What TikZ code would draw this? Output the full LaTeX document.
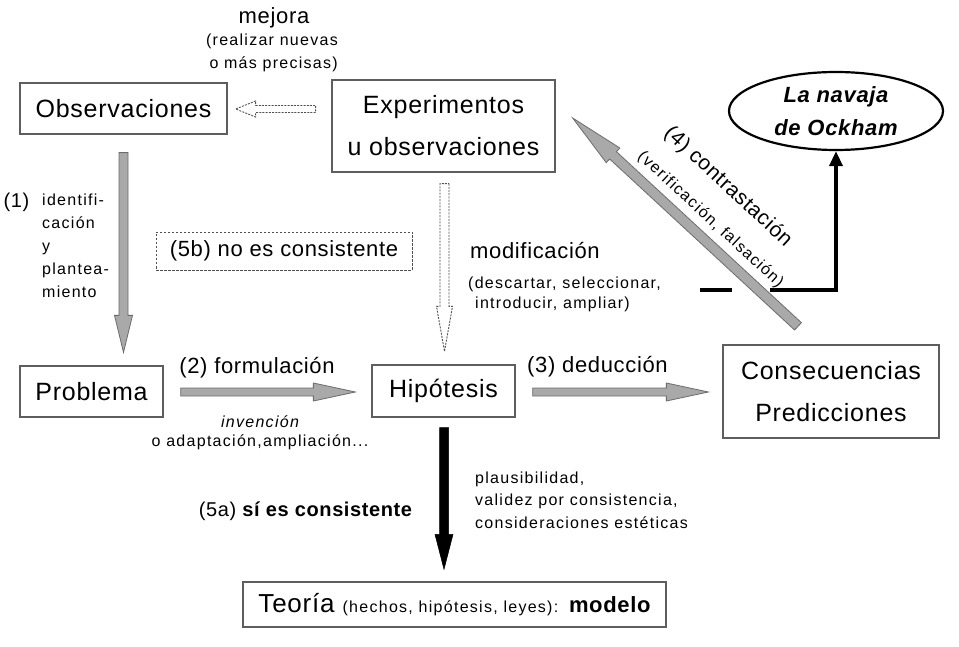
\documentclass[tikz,border=0pt]{standalone}
\usepackage{fontspec}
\setmainfont{Liberation Sans}[LetterSpace=3]
\newfontfamily\smallf{Liberation Sans}[LetterSpace=8]
\usetikzlibrary{calc,shapes.geometric,arrows.meta}
\definecolor{boxgray}{HTML}{5E5E5E}
\definecolor{arrfill}{HTML}{A9A9A9}
\definecolor{arredge}{HTML}{6C6C6C}
\definecolor{dashedge}{HTML}{505050}
\newcommand\setfs[2]{\fontsize{#1}{#2}\selectfont}
\newcommand\blockarrow[6]{%
  \coordinate (bah) at ($(#3)!#6!(#2)$);
  \path[#1] ($(#2)!#4!90:(#3)$) -- ($(bah)!#4!90:(#3)$) -- ($(bah)!#5!90:(#3)$) -- (#3)
    -- ($(bah)!#5!-90:(#3)$) -- ($(bah)!#4!-90:(#3)$) -- ($(#2)!#4!-90:(#3)$) -- cycle;}
\begin{document}
\begin{tikzpicture}[x=1pt,y=-1pt,
  box/.style={draw=boxgray, line width=1.3pt, fill=white, inner sep=0pt, align=center, font=\setfs{25}{30}},
  lbl/.style={inner sep=0pt, font=\setfs{22}{26}},
  small/.style={inner sep=0pt, font=\smallf\setfs{16}{22.5}, align=left},
  grayarrow/.style={fill=arrfill, draw=arredge, line width=0.8pt, line join=miter},
  blackarrow/.style={fill=black, draw=black, line width=0.5pt, line join=miter},
  dasharrow/.style={fill=white, draw=dashedge, line width=0.9pt, dash pattern=on 2pt off 1.2pt},
  thickline/.style={line width=3.5pt, black}
]
\fill[white] (0,0) rectangle (959,647);
\useasboundingbox (0,0) rectangle (959,647);

% boxes
\node[box, minimum width=207, minimum height=51] (obs) at (123.5,108.5) {Observaciones};
\node[box, minimum width=223, minimum height=92, font=\setfs{25}{42}] (exp) at (443.5,126) {Experimentos\\u observaciones};
\node[draw, ellipse, line width=2.2pt, inner sep=0pt, minimum width=214, minimum height=78,
      align=center, font=\bfseries\itshape\setfs{22}{33}] (ock) at (836,111) {La navaja\\de Ockham};
\node[box, minimum width=143, minimum height=51] (prob) at (91.5,391.5) {Problema};
\node[box, minimum width=143, minimum height=52] (hip) at (443.5,391) {Hipótesis};
\node[box, minimum width=216, minimum height=93, font=\setfs{25}{42}] (cons) at (831,391.5) {Consecuencias\\Predicciones};
\node[box, minimum width=423, minimum height=45] (teo) at (454.5,604.5)
  {\setfs{26}{30}Teoría {\smallf\setfs{16}{20}(hechos, hipótesis, leyes):} {\setfs{22}{26}\bfseries modelo}};
\node[draw=dashedge, line width=0.9pt, dash pattern=on 2.5pt off 1.5pt, inner sep=0pt,
      minimum width=256, minimum height=38, font=\setfs{22}{26}] (nc) at (284,251) {(5b) no es consistente};

% coordinates for connectors
\coordinate (a1s) at ($(obs.south)+(0,18)$);
\coordinate (a1e) at ($(a1s |- prob.north)+(0,-13)$);
\coordinate (a2s) at ($(prob.east)+(17,0.5)$);
\coordinate (a2e) at ($(hip.west)+(-16,1)$);
\coordinate (a3s) at ($(hip.east)+(17,1)$);
\coordinate (a3e) at ($(cons.west)+(-14,0.5)$);
\coordinate (a4s) at ($(cons.north)+(-33,-18)$);
\coordinate (a4e) at ($(exp.east)+(17,-8)$);
\coordinate (a5s) at ($(hip.south)+(0.5,10)$);
\coordinate (a5e) at ($(a5s |- teo.north)+(0,-12)$);
\coordinate (d1s) at ($(exp.south)+(1,11)$);
\coordinate (d1e) at ($(d1s |- hip.north)+(0,-13)$);
\coordinate (d2s) at ($(obs.east)+(88,0.5)$);
\coordinate (d2e) at ($(obs.east)+(8,0.5)$);
\coordinate (c0) at (700,290);
\coordinate (c1) at (732,290);
\coordinate (c2) at (770,290);

% block arrows
\blockarrow{grayarrow}{a1s}{a1e}{4.5pt}{9pt}{37pt}
\blockarrow{grayarrow}{a2s}{a2e}{4pt}{9pt}{42pt}
\blockarrow{grayarrow}{a3s}{a3e}{4pt}{9pt}{42pt}
\blockarrow{grayarrow}{a4s}{a4e}{5pt}{10pt}{55pt}
\blockarrow{blackarrow}{a5s}{a5e}{4.5pt}{9pt}{35pt}
\blockarrow{dasharrow}{d1s}{d1e}{4.5pt}{8pt}{45pt}
\blockarrow{dasharrow}{d2s}{d2e}{3.5pt}{8pt}{20pt}

% black connector to Ockham
\draw[thickline] (c0) -- (c1);
\draw[thickline, -{Triangle[length=15pt,width=13pt]}] (c2) -| (ock.south);

% labels
\node[lbl] (lmej) at (274,18) {mejora};
\node[small, align=right, anchor=east] (lmej2) at (338,53) {(realizar nuevas\\o más precisas)};
\node[lbl, font=\setfs{20}{24}] (l1) at (16.5,202) {(1)};
\node[small, anchor=west, font=\smallf\setfs{16}{23}] (l1b) at (42,246) {identifi-\\cación\\y\\plantea-\\miento};
\node[lbl] (l2) at (257,368) {(2) formulación};
\node[small, align=center, font=\smallf\setfs{16}{18.5}] (l2b) at (260,433) {\itshape invención\\o adaptación,ampliación...};
\node[lbl, anchor=west] (l3) at (527,367) {(3) deducción};
\node[lbl, anchor=west] (lmod) at (470,251) {modificación};
\node[small, anchor=west, font=\smallf\setfs{16}{20}] (lmod2) at (468,294) {(descartar, seleccionar,\\\hspace{7pt}introducir, ampliar)};
\node[lbl, rotate=-42.8, font=\setfs{21}{25}] (l4) at (728,187) {(4) contrastación};
\node[small, rotate=-42.8] (l4b) at (710.5,220) {(verificación, falsación)};
\node[lbl, font=\setfs{20}{24}] (l5a) at (305.5,511) {(5a) \bfseries sí es consistente};
\node[small, anchor=west] (lpl) at (475,500) {plausibilidad,\\validez por consistencia,\\consideraciones estéticas};
\end{tikzpicture}
\end{document}
